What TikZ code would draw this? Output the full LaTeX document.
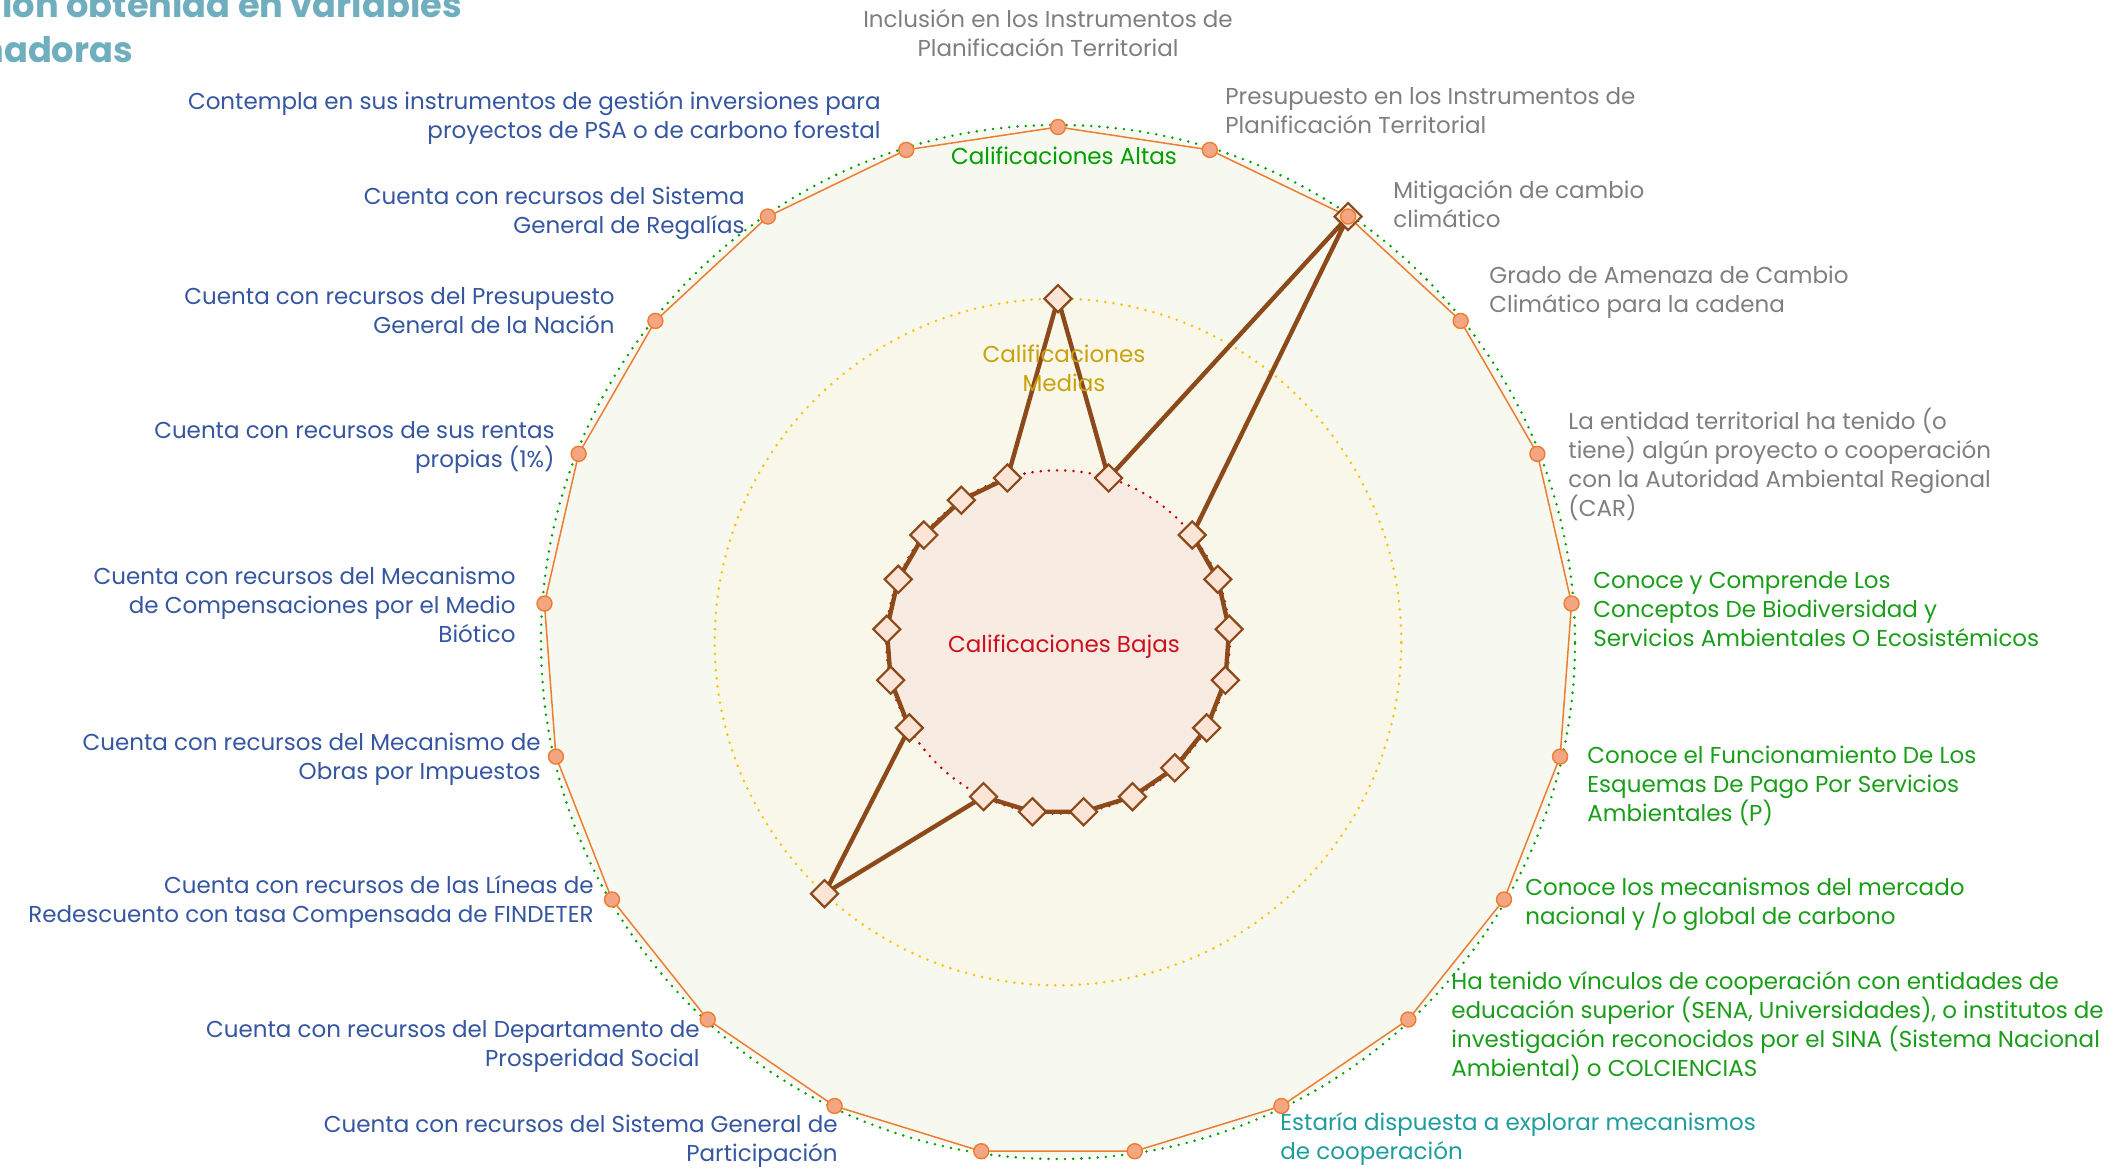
\documentclass[tikz,border=0pt]{standalone}
\usepackage{fontspec}
\setmainfont{Poppins}
\usetikzlibrary{shapes.geometric,calc}
\definecolor{altafill}{HTML}{F7F9F0}
\definecolor{mediafill}{HTML}{F8F7EA}
\definecolor{bajafill}{HTML}{F8EBE1}
\definecolor{ringgreen}{HTML}{00A000}
\definecolor{ringyellow}{HTML}{FFC000}
\definecolor{ringred}{HTML}{C00000}
\definecolor{orangeline}{HTML}{ED7D31}
\definecolor{orangedot}{HTML}{F4A582}
\definecolor{databrown}{HTML}{8C4A1A}
\definecolor{diamfill}{HTML}{FCE4D6}
\definecolor{labblue}{HTML}{3556A0}
\definecolor{labgray}{HTML}{7F7F7F}
\definecolor{labgreen}{HTML}{1A9E1A}
\definecolor{labteal}{HTML}{1F9C9C}
\definecolor{titleteal}{HTML}{6FAEBE}
\definecolor{labgold}{HTML}{C9A20E}
\definecolor{labred}{HTML}{CC1020}
\begin{document}
\begin{tikzpicture}[x=0.5pt,y=-0.5pt,
  ring/.style={line width=1.4pt,line cap=round,dash pattern=on 0pt off 4.1pt},
  orangepoly/.style={draw=orangeline,line width=0.75pt},
  dataline/.style={draw=databrown,line width=2.2pt,line join=round},
  diam/.style={shape=diamond,draw=databrown,fill=diamfill,line width=1.1pt,minimum size=14pt,inner sep=0pt},
  odot/.style={shape=circle,draw=orangeline,fill=orangedot,line width=0.7pt,minimum size=7.5pt,inner sep=0pt},
  lab/.style={inner sep=0pt,font=\fontsize{11.5}{14.5}\selectfont},
  labL/.style={lab,anchor=east,align=right,text=labblue},
  labR/.style={lab,anchor=west,align=left},
  inner/.style={lab,align=center},
  titlefont/.style={inner sep=0pt,anchor=base west,text=titleteal,font=\fontsize{17.6}{22}\selectfont\bfseries}]
\useasboundingbox (0,0) rectangle (2128,1168);
\clip (0,0) rectangle (2128,1168);
\fill[white] (0,0) rectangle (2128,1168);
\coordinate (c) at (1058,642);
% rings
\fill[altafill] (c) circle[radius=257.5pt];
\fill[mediafill] (c) circle[radius=171.67pt];
\fill[bajafill] (c) circle[radius=85.83pt];
\draw[ring,ringgreen] (c) circle[radius=258.5pt];
\draw[ring,ringyellow] (c) circle[radius=171.67pt];
\draw[ring,ringred] (c) circle[radius=85.83pt];
% axis points
\foreach \k/\v in {0/2,1/1,2/3,3/1,4/1,5/1,6/1,7/1,8/1,9/1,10/1,11/1,12/1,13/2,14/1,15/1,16/1,17/1,18/1,19/1,20/1}{
  \coordinate (h\k) at ($(c)+({\k*360/21-90}:515)$);
  \coordinate (p\k) at ($(c)+({\k*360/21-90}:{\v*171.667})$);
}
\draw[orangepoly] (h0) \foreach \k in {1,...,20}{ -- (h\k)} -- cycle;
\draw[dataline] (p0) \foreach \k in {1,...,20}{ -- (p\k)} -- cycle;
\foreach \k in {0,...,20} \node[diam] (d\k) at (p\k) {};
\foreach \k in {0,...,20} \node[odot] (o\k) at (h\k) {};
% inner labels
\node[inner,text=ringgreen] (tAlta) at (1064,156) {Calificaciones Altas};
\node[inner,text=labgold] (tMedia) at (1064,368) {Calificaciones\\Medias};
\node[inner,text=labred] (tBaja) at (1064,647) {Calificaciones Bajas};
% left labels
\node[labL] (l20) at (881,118) {Contempla en sus instrumentos de gestión inversiones para\\proyectos de PSA o de carbono forestal};
\node[labL] (l19) at (745,213) {Cuenta con recursos del Sistema\\General de Regalías};
\node[labL] (l18) at (615,311) {Cuenta con recursos del Presupuesto\\General de la Nación};
\node[labL] (l17) at (555,447) {Cuenta con recursos de sus rentas\\propias (1\%)};
\node[labL] (l16) at (516,605) {Cuenta con recursos del Mecanismo\\de Compensaciones por el Medio\\Biótico};
\node[labL] (l15) at (541,759) {Cuenta con recursos del Mecanismo de\\Obras por Impuestos};
\node[labL] (l14) at (594,902) {Cuenta con recursos de las Líneas de\\Redescuento con tasa Compensada de FINDETER};
\node[labL] (l13) at (700,1046) {Cuenta con recursos del Departamento de\\Prosperidad Social};
\node[labL] (l12) at (838,1141) {Cuenta con recursos del Sistema General de\\Participación};
% top
\node[lab,align=center,text=labgray] (l0) at (1048,33) {Inclusión en los Instrumentos de\\Planificación Territorial};
% right labels
\node[labR,text=labgray] (l1) at (1225,111) {Presupuesto en los Instrumentos de\\Planificación Territorial};
\node[labR,text=labgray] (l2) at (1393,204) {Mitigación de cambio\\climático};
\node[labR,text=labgray] (l3) at (1489,292) {Grado de Amenaza de Cambio\\Climático para la cadena};
\node[labR,text=labgray] (l4) at (1568,464) {La entidad territorial ha tenido (o\\tiene) algún proyecto o cooperación\\con la Autoridad Ambiental Regional\\(CAR)};
\node[labR,text=labgreen] (l5) at (1593,609) {Conoce y Comprende Los\\Conceptos De Biodiversidad y\\Servicios Ambientales O Ecosistémicos};
\node[labR,text=labgreen] (l6) at (1587,786) {Conoce el Funcionamiento De Los\\Esquemas De Pago Por Servicios\\Ambientales (P)};
\node[labR,text=labgreen] (l7) at (1525,904) {Conoce los mecanismos del mercado\\nacional y /o global de carbono};
\node[labR,text=labgreen] (l8) at (1451,1026) {Ha tenido vínculos de cooperación con entidades de\\educación superior (SENA, Universidades), o institutos de\\investigación reconocidos por el SINA (Sistema Nacional\\Ambiental) o COLCIENCIAS};
\node[labR,text=labteal] (l9) at (1280,1139) {Estaría dispuesta a explorar mecanismos\\de cooperación};
% title
\node[titlefont] (ti1) at (2,17) {ión obtenida en variables};
\node[titlefont] (ti2) at (-20,62) {nadoras};
\end{tikzpicture}
\end{document}
